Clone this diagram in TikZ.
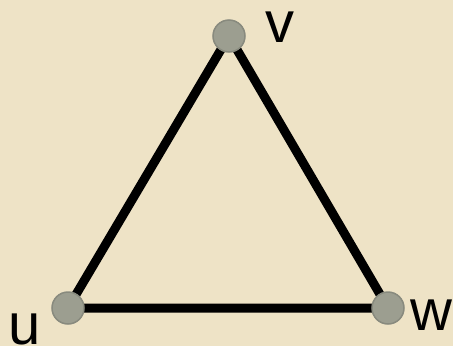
\documentclass[tikz,border=0pt]{standalone}
\usepackage{fontspec}
\setmainfont{Liberation Sans}
\definecolor{parch}{RGB}{238,227,198}
\definecolor{vfill}{RGB}{156,158,144}
\definecolor{vdraw}{RGB}{136,138,126}
\begin{document}
\begin{tikzpicture}[x=1pt,y=-1pt,
  vert/.style={circle,fill=vfill,draw=vdraw,line width=1.5pt,minimum size=32pt,inner sep=0pt},
  edge/.style={line width=9pt,black},
  lab/.style={anchor=base,inner sep=0pt,text height=31pt,text depth=0pt,font=\fontsize{58}{60}\selectfont}]
\fill[parch] (0,0) rectangle (453,346);
\useasboundingbox (0,0) rectangle (453,346);
\coordinate (pv) at (229,36);
\coordinate (pu) at (68,308);
\coordinate (pw) at (388,308);
\draw[edge] (pu) -- (pv) -- (pw) -- cycle;
\node[vert] (v) at (pv) {};
\node[vert] (u) at (pu) {};
\node[vert] (w) at (pw) {};
\node[lab] (lv) at (280,42) {v};
\node[lab] (lu) at (25,344) {u};
\node[lab] (lw) at (431,330) {w};
\end{tikzpicture}
\end{document}
